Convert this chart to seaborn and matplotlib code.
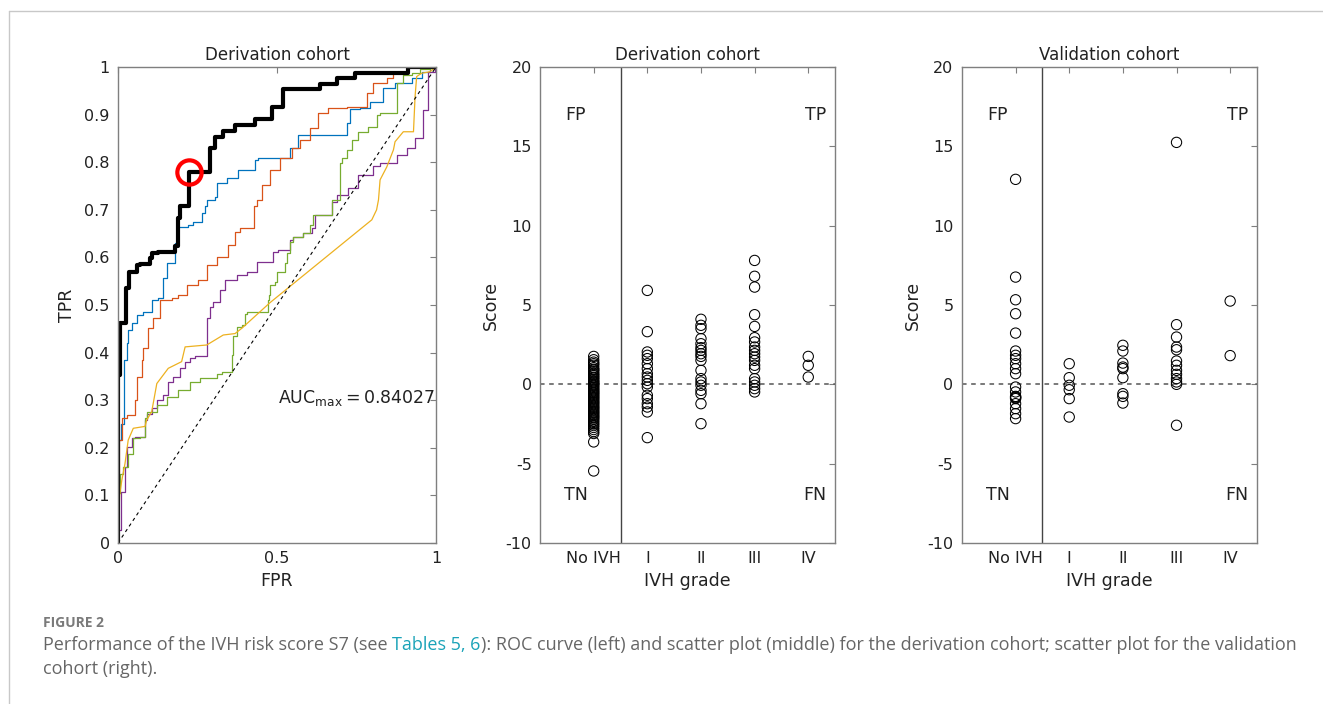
import numpy as np
import pandas as pd
import matplotlib
matplotlib.use("Agg")
import matplotlib.pyplot as plt
import seaborn as sns

# ROC curves, derivation cohort
best_fpr = [0, 0, 0.006, 0.006, 0.024, 0.035, 0.059, 0.069, 0.10, 0.106, 0.127, 0.179, 0.190, 0.195,
            0.205, 0.223, 0.223, 0.289, 0.289, 0.305, 0.331, 0.368, 0.431, 0.483, 0.520, 0.635, 0.688,
            0.745, 0.913, 0.986, 1.0]
best_tpr = [0, 0.353, 0.353, 0.451, 0.462, 0.535, 0.570, 0.584, 0.587, 0.598, 0.609, 0.612, 0.623, 0.682,
            0.707, 0.707, 0.780, 0.780, 0.819, 0.829, 0.854, 0.866, 0.878, 0.890, 0.915, 0.953, 0.964,
            0.976, 0.987, 1.0, 1.0]

blue_fpr = [0, 0.009, 0.009, 0.019, 0.019, 0.027, 0.032, 0.043, 0.059, 0.080, 0.106, 0.127, 0.142, 0.153,
            0.179, 0.190, 0.221, 0.237, 0.263, 0.274, 0.279, 0.305, 0.31, 0.342, 0.378, 0.431, 0.441,
            0.541, 0.567, 0.593, 0.719, 0.730, 0.761, 0.792, 0.834, 0.871, 0.923, 0.955, 0.98, 1.0]
blue_tpr = [0, 0.216, 0.251, 0.251, 0.349, 0.384, 0.42, 0.447, 0.462, 0.479, 0.486, 0.51, 0.514, 0.556,
            0.588, 0.63, 0.664, 0.668, 0.675, 0.693, 0.707, 0.721, 0.727, 0.756, 0.766, 0.784, 0.805,
            0.808, 0.829, 0.857, 0.857, 0.882, 0.911, 0.913, 0.927, 0.955, 0.966, 0.976, 0.99, 1.0]

red_fpr = [0, 0.004, 0.012, 0.012, 0.027, 0.053, 0.059, 0.075, 0.080, 0.095, 0.111, 0.132, 0.148, 0.169,
           0.19, 0.216, 0.253, 0.279, 0.31, 0.347, 0.368, 0.384, 0.426, 0.436, 0.452, 0.478, 0.509, 0.546,
           0.572, 0.604, 0.63, 0.661, 0.719, 0.782, 0.803, 0.845, 0.866, 0.908, 0.971, 1.0]
red_tpr = [0, 0.146, 0.216, 0.251, 0.262, 0.269, 0.30, 0.349, 0.384, 0.409, 0.451, 0.472, 0.51, 0.51,
           0.514, 0.521, 0.542, 0.553, 0.584, 0.601, 0.626, 0.654, 0.661, 0.707, 0.721, 0.752, 0.784, 0.808,
           0.829, 0.847, 0.871, 0.903, 0.913, 0.917, 0.945, 0.966, 0.976, 0.987, 1.0, 1.0]

purple_fpr = [0, 0.01, 0.022, 0.027, 0.043, 0.053, 0.085, 0.09, 0.106, 0.122, 0.142, 0.158, 0.174, 0.195,
              0.211, 0.226, 0.242, 0.279, 0.279, 0.289, 0.30, 0.321, 0.336, 0.373, 0.405, 0.436, 0.488,
              0.504, 0.541, 0.551, 0.583, 0.609, 0.619, 0.672, 0.688, 0.724, 0.756, 0.803, 0.824, 0.876,
              0.908, 0.934, 0.96, 0.976, 0.997, 1.0]
purple_tpr = [0, 0.027, 0.108, 0.16, 0.202, 0.22, 0.223, 0.258, 0.272, 0.283, 0.30, 0.311, 0.339, 0.349,
              0.367, 0.381, 0.388, 0.392, 0.458, 0.472, 0.496, 0.507, 0.532, 0.553, 0.563, 0.570, 0.591,
              0.612, 0.616, 0.637, 0.643, 0.651, 0.661, 0.689, 0.717, 0.731, 0.745, 0.773, 0.792, 0.798,
              0.815, 0.829, 0.85, 0.91, 0.99, 1.0]

green_fpr = [0, 0.006, 0.017, 0.032, 0.048, 0.069, 0.085, 0.09, 0.122, 0.153, 0.19, 0.226, 0.258, 0.31,
             0.326, 0.357, 0.362, 0.373, 0.389, 0.40, 0.405, 0.426, 0.473, 0.476, 0.478, 0.494, 0.501,
             0.525, 0.53, 0.541, 0.551, 0.583, 0.604, 0.614, 0.63, 0.672, 0.677, 0.698, 0.703, 0.719,
             0.735, 0.756, 0.787, 0.813, 0.824, 0.876, 0.876, 0.897, 0.923, 0.95, 0.98, 1.0]
green_tpr = [0, 0.104, 0.146, 0.16, 0.188, 0.22, 0.223, 0.262, 0.276, 0.29, 0.307, 0.321, 0.339, 0.346,
             0.356, 0.36, 0.395, 0.434, 0.454, 0.458, 0.482, 0.486, 0.486, 0.51, 0.521, 0.542, 0.549,
             0.57, 0.588, 0.609, 0.633, 0.643, 0.651, 0.668, 0.689, 0.689, 0.721, 0.721, 0.798, 0.808,
             0.826, 0.847, 0.864, 0.875, 0.899, 0.903, 0.955, 0.966, 0.983, 0.987, 0.995, 1.0]

yellow_fpr = [0, 0.005, 0.012, 0.022, 0.032, 0.048, 0.085, 0.09, 0.106, 0.122, 0.158, 0.2, 0.211, 0.279,
              0.331, 0.368, 0.389, 0.478, 0.798, 0.813, 0.819, 0.824, 0.845, 0.866, 0.871, 0.897, 0.929,
              0.934, 0.939, 0.955, 0.98, 1.0]
yellow_tpr = [0, 0.1, 0.132, 0.167, 0.216, 0.241, 0.245, 0.258, 0.276, 0.335, 0.367, 0.381, 0.412, 0.416,
              0.437, 0.44, 0.451, 0.505, 0.679, 0.70, 0.721, 0.763, 0.79, 0.826, 0.843, 0.864, 0.864,
              0.938, 0.98, 0.987, 0.99, 1.0]

opt_point = (0.223, 0.78)
auc_max = 0.84027

# score scatter data
grades = ["No IVH", "I", "II", "III", "IV"]

der_none = [1.76, 1.55, 1.4, 1.3, 1.2, 1.05, 0.95, 0.9, 0.8, 0.7, 0.62, 0.55, 0.45, 0.4, 0.3, 0.22, 0.15,
            0.1, 0.02, -0.05, -0.12, -0.2, -0.28, -0.35, -0.42, -0.5, -0.55, -0.63, -0.7, -0.78, -0.85,
            -0.92, -1.0, -1.08, -1.15, -1.22, -1.3, -1.38, -1.45, -1.52, -1.6, -1.68, -1.75, -1.82, -1.9,
            -1.98, -2.05, -2.12, -2.2, -2.3, -2.4, -2.5, -2.6, -2.72, -2.85, -2.98, -3.1, -3.63, -5.46]
der_g1 = [5.92, 3.32, 2.04, 1.83, 1.62, 1.30, 0.99, 0.67, 0.46, 0.25, 0.04, -0.17, -0.69, -0.90, -1.22,
          -1.43, -1.74, -3.36]
der_g2 = [4.10, 3.72, 3.51, 2.88, 2.56, 2.31, 2.14, 1.93, 1.76, 1.51, 0.88, 0.36, 0.15, -0.06, -0.38,
          -0.59, -1.22, -2.48]
der_g3 = [7.81, 6.81, 6.13, 4.39, 3.65, 2.94, 2.67, 2.35, 2.14, 1.93, 1.72, 1.51, 1.20, 0.99, 0.36, 0.15,
          -0.06, -0.27, -0.48]
der_g4 = [1.76, 1.20, 0.46]

val_none = [12.92, 6.76, 5.33, 4.45, 3.23, 2.10, 1.83, 1.62, 1.30, 0.99, 0.67, -0.17, -0.48, -0.76, -0.8,
            -0.85, -0.90, -1.22, -1.53, -1.85, -2.16]
val_g1 = [1.30, 0.42, -0.06, -0.34, -0.90, -2.06]
val_g2 = [2.46, 2.10, 1.34, 1.09, 0.99, 0.42, -0.59, -0.76, -1.18]
val_g3 = [15.25, 3.76, 2.98, 2.35, 2.18, 1.47, 1.20, 0.88, 0.63, 0.36, 0.15, 0.0, -2.58]
val_g4 = [5.25, 1.81]

sns.set_style("white")
plt.rcParams['font.family'] = ['DejaVu Sans']
plt.rcParams['axes.unicode_minus'] = False

fig = plt.figure(figsize=(13.23, 7.04), dpi=100)
ax_roc = fig.add_axes([0.0892, 0.2287, 0.2404, 0.6761])
ax_der = fig.add_axes([0.4082, 0.2287, 0.2230, 0.6761])
ax_val = fig.add_axes([0.7271, 0.2287, 0.2230, 0.6761])

fs = 11.5
axis_grey = '#7f7f7f'


def style_axes(ax):
    for sp in ax.spines.values():
        sp.set_color(axis_grey)
        sp.set_linewidth(1.0)
    ax.tick_params(direction='in', top=True, right=True, length=4, width=0.8,
                   color=axis_grey, labelsize=fs, labelcolor='#222222', pad=6)


# ROC panel
roc_curves = [(blue_fpr, blue_tpr, '#0072BD'), (red_fpr, red_tpr, '#D95319'),
              (purple_fpr, purple_tpr, '#7E2F8E'), (green_fpr, green_tpr, '#77AC30')]
for f, t, c in roc_curves:
    sns.lineplot(x=f, y=t, sort=False, estimator=None, color=c, linewidth=0.9,
                 drawstyle='steps-pre', ax=ax_roc)
sns.lineplot(x=yellow_fpr, y=yellow_tpr, sort=False, estimator=None, color='#EDB120',
             linewidth=0.9, ax=ax_roc)
ax_roc.plot([0, 1], [0, 1], color='black', linestyle=(0, (3, 3)), linewidth=0.8)
sns.lineplot(x=best_fpr, y=best_tpr, sort=False, estimator=None, color='black', linewidth=3.0,
             drawstyle='steps-pre', ax=ax_roc)
ax_roc.plot(opt_point[0], opt_point[1], marker='o', markersize=17.5, markerfacecolor='none',
            markeredgecolor='red', markeredgewidth=3)
ax_roc.text(0.503, 0.305, r'AUC$_{\mathregular{max}}$$\mathregular{=}$' + f'{auc_max:.5f}',
            fontsize=12.5, ha='left', va='center', color='#222222')
ax_roc.set_xlim(0, 1)
ax_roc.set_ylim(0, 1)
ax_roc.set_xticks([0, 0.5, 1])
ax_roc.set_xticklabels(['0', '0.5', '1'])
ax_roc.set_yticks(np.arange(0, 1.01, 0.1))
ax_roc.set_yticklabels([f'{v:g}' for v in np.round(np.arange(0, 1.01, 0.1), 1)])
ax_roc.set_xlabel('FPR', fontsize=fs + 1, color='#222222', labelpad=4)
ax_roc.set_ylabel('TPR', fontsize=fs + 1, color='#222222', labelpad=6)
ax_roc.set_title('Derivation cohort', fontsize=fs + 0.5, color='#222222', pad=5)
style_axes(ax_roc)


def score_panel(ax, groups, title):
    rows = []
    for i, vals in enumerate(groups):
        for v in vals:
            rows.append({'grade': i + 1, 'score': v})
    df = pd.DataFrame(rows)
    ax.axhline(0, color='#555555', linestyle=(0, (3, 3)), linewidth=1.1, zorder=1)
    ax.axvline(1.5, color='#444444', linewidth=1.0, zorder=1)
    sns.scatterplot(data=df, x='grade', y='score', marker='o', s=55, fc='none', ec='black',
                    linewidth=0.75, ax=ax, zorder=3)
    ax.set_xlim(0, 5.5)
    ax.set_ylim(-10, 20)
    ax.set_xticks(range(1, 6))
    ax.set_xticklabels(grades)
    ax.set_yticks(range(-10, 21, 5))
    ax.set_xlabel('IVH grade', fontsize=fs + 1, color='#222222', labelpad=4)
    ax.set_ylabel('Score', fontsize=fs + 1, color='#222222', labelpad=4)
    ax.set_title(title, fontsize=fs + 0.5, color='#222222', pad=5)
    for lab, x, y in [('FP', 0.67, 17), ('TP', 5.13, 17), ('TN', 0.67, -7), ('FN', 5.13, -7)]:
        ax.text(x, y, lab, fontsize=fs + 1, ha='center', va='center', color='#222222')
    style_axes(ax)


score_panel(ax_der, [der_none, der_g1, der_g2, der_g3, der_g4], 'Derivation cohort')
score_panel(ax_val, [val_none, val_g1, val_g2, val_g3, val_g4], 'Validation cohort')

# page frame lines
fig.add_artist(plt.Line2D([0.0068, 1.0], [0.9844, 0.9844], color='#c8c8c8', linewidth=1.0))
fig.add_artist(plt.Line2D([0.0068, 0.0068], [0.0, 0.9844], color='#c8c8c8', linewidth=1.0))

# caption
cap_font = ['Open Sans', 'DejaVu Sans']
cap_col = '#666666'
cap_x = 43 / 1323
fig.text(cap_x, 1 - 623 / 704, 'FIGURE 2', fontsize=10, fontweight='bold', color='#7a7a7a',
         family=cap_font, va='center')
fig.canvas.draw()
renderer = fig.canvas.get_renderer()
y1 = 1 - 645 / 704
parts = [('Performance of the IVH risk score S7 (see ', cap_col), ('Tables 5, 6', '#1aa3b8'),
         ('): ROC curve (left) and scatter plot (middle) for the derivation cohort; scatter plot for the validation',
          cap_col)]
x = cap_x
for txt, col in parts:
    t = fig.text(x, y1, txt, fontsize=13, color=col, family=cap_font, va='center')
    bb = t.get_window_extent(renderer)
    x = x + bb.width / fig.bbox.width
fig.text(cap_x, 1 - 669 / 704, 'cohort (right).', fontsize=13, color=cap_col, family=cap_font,
         va='center')

fig.savefig('out.png', dpi=100)
